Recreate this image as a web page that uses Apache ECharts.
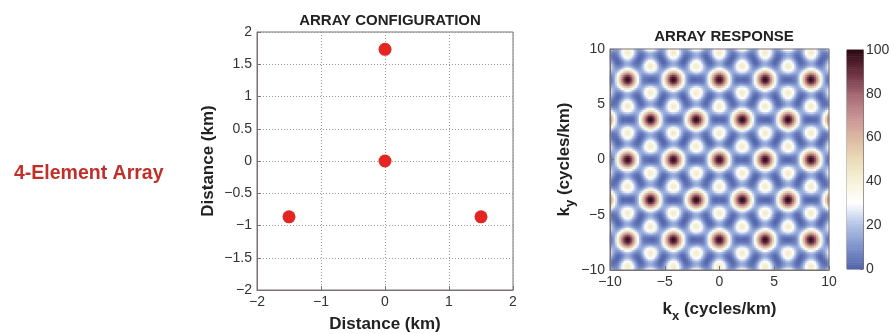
<!DOCTYPE html>
<html><head><meta charset="utf-8">
<script src="https://cdn.jsdelivr.net/npm/echarts@6/dist/echarts.min.js"></script>
<style>html,body{margin:0;padding:0;background:#fff}#c{width:894px;height:334px}</style>
</head><body><div id="c"></div>
<script>
// Element positions (km)
const elemX = [0, 0, -1.5, 1.5];
const elemY = [0, 1.732, -0.866, -0.866];
// Tick labels
const cfgXTicks = [-2, -1, 0, 1, 2];
const cfgYTicks = [-2, -1.5, -1, -0.5, 0, 0.5, 1, 1.5, 2];
const respTicks = [-10, -5, 0, 5, 10];
const cbarTicks = [0, 20, 40, 60, 80, 100];

// Array response cells: the picture shows the normalised beam power of the
// element layout above, so cells are derived from the element positions.
const N = 120;
const kCats = [];
for (let i = 0; i < N; i++) kCats.push(i);
const respData = [];
for (let j = 0; j < N; j++) {
  const ky = -10 + (j + 0.5) * 20 / N;
  for (let i = 0; i < N; i++) {
    const kx = -10 + (i + 0.5) * 20 / N;
    let re = 0, im = 0;
    for (let n = 0; n < elemX.length; n++) {
      const ph = kx * elemX[n] + ky * elemY[n];
      re += Math.cos(ph); im += Math.sin(ph);
    }
    respData.push([i, j, (re * re + im * im) / (elemX.length * elemX.length) * 100]);
  }
}
const CB = 100;
const cbCats = [];
const cbData = [];
for (let j = 0; j <= CB; j++) { cbCats.push(j); cbData.push([0, j, j]); }

const minus = v => String(v).replace('-', '\u2212');
const chart = echarts.init(document.getElementById('c'), null, {renderer: 'canvas'});
const FF = 'Liberation Sans, Arial';
const frame = {show: true, onZero: false, lineStyle: {color: '#7a7272', width: 1}};
const tickIn = {show: true, inside: true, length: 4, lineStyle: {color: '#7a7272'}};
const lab = {color: '#333', fontFamily: FF, fontSize: 14, formatter: minus};
const nameStyle = {color: '#222', fontFamily: FF, fontSize: 17, fontWeight: 'bold'};
const richName = {
  b: {fontFamily: FF, fontSize: 17, fontWeight: 'bold', color: '#222', lineHeight: 22, verticalAlign: 'top'},
  s: {fontFamily: FF, fontSize: 13, fontWeight: 'bold', color: '#222', lineHeight: 22, padding: [9, 0, 0, 0], verticalAlign: 'top'}
};
const titleStyle = {fontFamily: FF, fontSize: 15, fontWeight: 'bold', color: '#222'};
const G = {outerBoundsMode: 'none', containLabel: false};

chart.setOption({
  animation: false,
  title: [
    {text: 'ARRAY CONFIGURATION', left: 385, top: 8, textAlign: 'center', textStyle: titleStyle},
    {text: 'ARRAY RESPONSE', left: 719, top: 24, textAlign: 'center', textStyle: titleStyle},
    {text: '4-Element Array', left: 9, top: 159,
     textStyle: {fontFamily: FF, fontSize: 19.5, fontWeight: 'bold', color: '#c0302a'}}
  ],
  grid: [
    Object.assign({left: 257, top: 32, width: 256, height: 258, show: true, borderColor: '#7a7272', borderWidth: 1}, G),
    Object.assign({left: 610, top: 49, width: 219, height: 221}, G),
    Object.assign({left: 610, top: 49, width: 219, height: 221, show: true, borderColor: '#7a7272', borderWidth: 1, z: 10}, G),
    Object.assign({left: 847, top: 50, width: 16, height: 219}, G),
    Object.assign({left: 847, top: 50, width: 16, height: 219, show: true, borderColor: '#7a7272', borderWidth: 1}, G)
  ],
  visualMap: {
    show: false, min: 0, max: 100, seriesIndex: [1, 2], calculable: false,
    inRange: {color: ['#5566ac', '#7d93cc', '#b4c4e6', '#ffffff', '#f6f2d8', '#eadcb8', '#dbb8a2', '#c79294', '#a46872', '#6b3040', '#2e0a14']}
  },
  xAxis: [
    {gridIndex: 0, type: 'value', min: -2, max: 2, interval: 1,
     name: 'Distance (km)', nameLocation: 'middle', nameGap: 26, nameTextStyle: nameStyle,
     axisLine: frame, axisTick: tickIn, axisLabel: Object.assign({}, lab, {margin: 5}),
     splitLine: {show: true, lineStyle: {color: '#999', type: [1, 2], width: 1}}},
    {gridIndex: 1, type: 'value', min: -10, max: 10, interval: 5,
     name: '{b|k}{s|x}{b| (cycles/km)}', nameLocation: 'middle', nameGap: 31,
     nameTextStyle: {rich: richName},
     axisLine: frame, axisTick: tickIn, axisLabel: Object.assign({}, lab, {margin: 5}), splitLine: {show: false}, z: 10},
    {gridIndex: 2, type: 'category', data: kCats, show: false},
    {gridIndex: 3, type: 'category', data: [0], show: false},
    {gridIndex: 4, type: 'value', min: 0, max: 1, show: false}
  ],
  yAxis: [
    {gridIndex: 0, type: 'value', min: -2, max: 2, interval: 0.5,
     name: 'Distance (km)', nameLocation: 'middle', nameGap: 40, nameTextStyle: nameStyle,
     axisLine: frame, axisTick: tickIn, axisLabel: Object.assign({}, lab, {margin: 5}),
     splitLine: {show: true, lineStyle: {color: '#999', type: [1, 2], width: 1}}},
    {gridIndex: 1, type: 'value', min: -10, max: 10, interval: 5,
     name: '{b|k}{s|y}{b| (cycles/km)}', nameLocation: 'middle', nameGap: 31,
     nameTextStyle: {rich: richName},
     axisLine: frame, axisTick: tickIn, axisLabel: Object.assign({}, lab, {margin: 5}), splitLine: {show: false}, z: 10},
    {gridIndex: 2, type: 'category', data: kCats, show: false},
    {gridIndex: 3, type: 'category', data: cbCats, show: false},
    {gridIndex: 4, type: 'value', min: 0, max: 100, interval: 20, position: 'right',
     axisLine: frame, axisTick: {show: true, inside: true, length: 3, lineStyle: {color: '#7a7272'}},
     axisLabel: Object.assign({}, lab, {margin: 3}), splitLine: {show: false}}
  ],
  series: [
    {type: 'scatter', xAxisIndex: 0, yAxisIndex: 0, symbolSize: 13,
     itemStyle: {color: '#e3261f', opacity: 1},
     data: elemX.map((x, i) => [x, elemY[i]]), z: 5},
    {type: 'heatmap', xAxisIndex: 2, yAxisIndex: 2, data: respData, progressive: 0,
     itemStyle: {borderWidth: 0}, emphasis: {disabled: true}},
    {type: 'heatmap', xAxisIndex: 3, yAxisIndex: 3, data: cbData, progressive: 0,
     itemStyle: {borderWidth: 0}, emphasis: {disabled: true}}
  ]
});
</script></body></html>
